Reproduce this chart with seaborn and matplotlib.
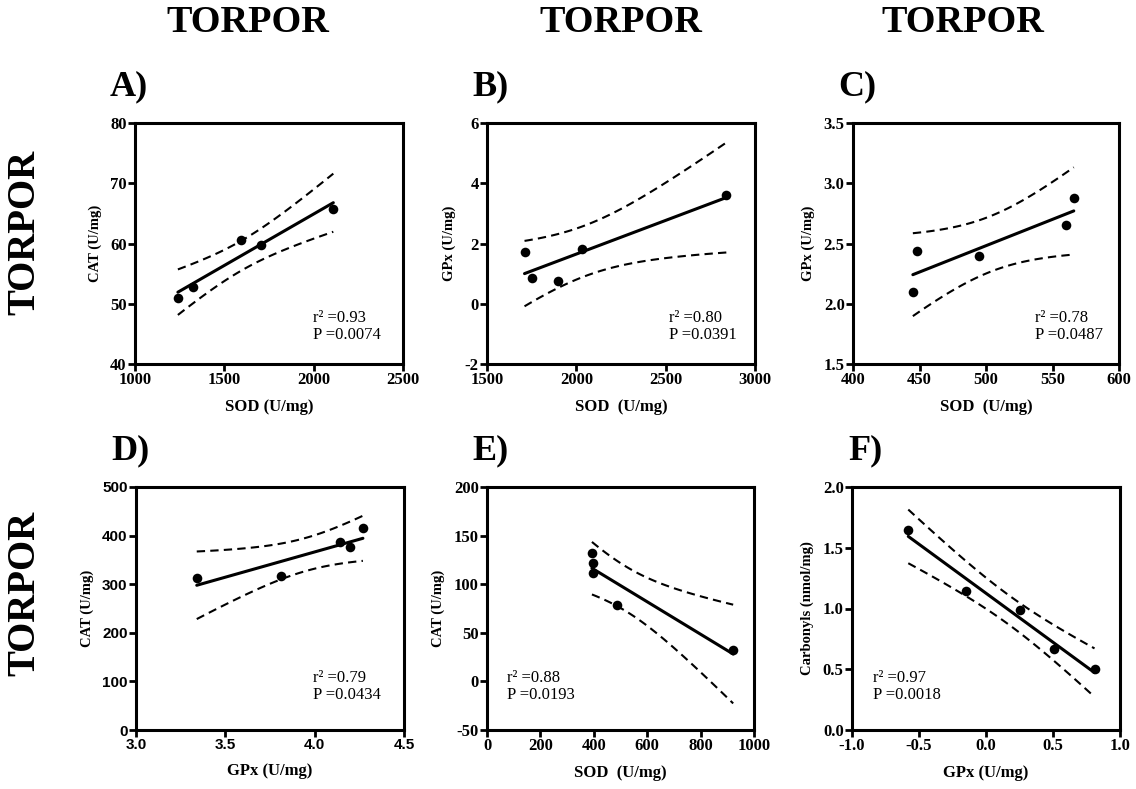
import numpy as np
import matplotlib
matplotlib.use("Agg")
import matplotlib.pyplot as plt
import seaborn as sns

sns.set_theme(style="white")
plt.rcParams['font.family'] = ['Liberation Serif', 'DejaVu Serif']
for k in ["text.color", "axes.labelcolor", "xtick.color", "ytick.color", "axes.edgecolor"]:
    plt.rcParams[k] = "black"

# ---- data ----
a_x = [1240, 1325, 1595, 1705, 2110]
a_y = [51.0, 52.7, 60.6, 59.8, 65.8]
b_x = [1710, 1750, 1900, 2030, 2840]
b_y = [1.72, 0.85, 0.75, 1.82, 3.62]
c_x = [445, 448, 495, 560, 566]
c_y = [2.10, 2.44, 2.40, 2.65, 2.88]
d_x = [3.34, 3.81, 4.14, 4.20, 4.27]
d_y = [313, 316, 386, 377, 415]
e_x = [393, 397, 397, 487, 922]
e_y = [132, 122, 112, 79, 32]
f_x = [-0.58, -0.15, 0.25, 0.51, 0.81]
f_y = [1.65, 1.14, 0.99, 0.67, 0.50]

stats = ["r² =0.93\nP =0.0074", "r² =0.80\nP =0.0391", "r² =0.78\nP =0.0487",
         "r² =0.79\nP =0.0434", "r² =0.88\nP =0.0193", "r² =0.97\nP =0.0018"]
letters = ["A)", "B)", "C)", "D)", "E)", "F)"]
xlabels = ["SOD (U/mg)", "SOD  (U/mg)", "SOD  (U/mg)", "GPx (U/mg)", "SOD  (U/mg)", "GPx (U/mg)"]
ylabels = ["CAT (U/mg)", "GPx (U/mg)", "GPx (U/mg)", "CAT (U/mg)", "CAT (U/mg)", "Carbonyls (nmol/mg)"]
xlims = [(1000, 2500), (1500, 3000), (400, 600), (3.0, 4.5), (0, 1000), (-1.0, 1.0)]
ylims = [(40, 80), (-2, 6), (1.5, 3.5), (0, 500), (-50, 200), (0.0, 2.0)]
xticks = [[1000, 1500, 2000, 2500], [1500, 2000, 2500, 3000], [400, 450, 500, 550, 600],
          [3.0, 3.5, 4.0, 4.5], [0, 200, 400, 600, 800, 1000], [-1.0, -0.5, 0.0, 0.5, 1.0]]
yticks = [[40, 50, 60, 70, 80], [-2, 0, 2, 4, 6], [1.5, 2.0, 2.5, 3.0, 3.5],
          [0, 100, 200, 300, 400, 500], [-50, 0, 50, 100, 150, 200], [0.0, 0.5, 1.0, 1.5, 2.0]]
xfmt = ["{:.0f}", "{:.0f}", "{:.0f}", "{:.1f}", "{:.0f}", "{:.1f}"]
yfmt = ["{:.0f}", "{:.0f}", "{:.1f}", "{:.0f}", "{:.0f}", "{:.1f}"]
stat_pos = [(0.665, 0.155), (0.68, 0.155), (0.685, 0.155), (0.66, 0.18), (0.075, 0.18), (0.08, 0.18)]
headers = ["TORPOR", "TORPOR", "TORPOR"]
row_labels = ["TORPOR", "TORPOR"]

datasets = [(a_x, a_y), (b_x, b_y), (c_x, c_y), (d_x, d_y), (e_x, e_y), (f_x, f_y)]

W, H = 1136, 789
fig = plt.figure(figsize=(W / 100, H / 100), dpi=100)

boxes = [(135, 123, 403, 364), (487, 123, 755, 364), (853, 123, 1119, 364),
         (136, 487, 404, 730), (487, 487, 754, 730), (852, 487, 1120, 730)]
letter_x = [110, 472, 838, 111, 472, 848]

T_CRIT = 3.182  # t(0.975, df=3)

for i, ((x, y), (l, t, r, b)) in enumerate(zip(datasets, boxes)):
    ax = fig.add_axes([l / W, 1 - b / H, (r - l) / W, (b - t) / H])
    x = np.asarray(x, float)
    y = np.asarray(y, float)
    sns.regplot(x=x, y=y, ax=ax, ci=None, color="black",
                scatter_kws=dict(s=48, zorder=3, linewidths=0, alpha=1),
                line_kws=dict(lw=2.2))
    # 95% confidence band of the regression line
    n = len(x)
    slope, icpt = np.polyfit(x, y, 1)
    resid = y - (slope * x + icpt)
    s = np.sqrt(np.sum(resid ** 2) / (n - 2))
    xx = np.linspace(x.min(), x.max(), 100)
    se = s * np.sqrt(1 / n + (xx - x.mean()) ** 2 / np.sum((x - x.mean()) ** 2))
    yy = slope * xx + icpt
    ax.plot(xx, yy + T_CRIT * se, ls=(0, (4, 2.5)), color="black", lw=1.5)
    ax.plot(xx, yy - T_CRIT * se, ls=(0, (4, 2.5)), color="black", lw=1.5)

    ax.set_xlim(*xlims[i])
    ax.set_ylim(*ylims[i])
    ax.set_xticks(xticks[i])
    ax.set_yticks(yticks[i])
    tick_family = ['Liberation Sans'] if i == 3 else ['Liberation Serif']
    tsize = 11 if i == 3 else 12
    ax.set_xticklabels([xfmt[i].format(v) for v in xticks[i]], fontsize=tsize,
                       fontweight="bold", family=tick_family)
    ax.set_yticklabels([yfmt[i].format(v) for v in yticks[i]], fontsize=tsize,
                       fontweight="bold", family=tick_family)
    ax.set_xlabel(xlabels[i], fontsize=12, fontweight="bold", labelpad=8)
    ax.set_ylabel(ylabels[i], fontsize=10.5, fontweight="bold", labelpad=6)
    for sp in ax.spines.values():
        sp.set_linewidth(2.2)
        sp.set_color("black")
    ax.tick_params(axis="both", direction="out", length=5, width=2, color="black",
                   pad=1, bottom=True, left=True)
    ax.text(stat_pos[i][0], stat_pos[i][1], stats[i], transform=ax.transAxes,
            fontsize=12, va="center", ha="left", linespacing=1.1)
    fig.text(letter_x[i] / W, 1 - (t - 36) / H, letters[i], fontsize=26,
             fontweight="bold", va="center", ha="left")

for cx, h in zip([248, 621, 963], headers):
    fig.text(cx / W, 1 - 23 / H, h, fontsize=27.5, fontweight="bold", ha="center", va="center")
for cy, h in zip([232, 593], row_labels):
    fig.text(25 / W, 1 - cy / H, h, fontsize=28, fontweight="bold", ha="center",
             va="center", rotation=90)

fig.savefig("out.png", dpi=100)
